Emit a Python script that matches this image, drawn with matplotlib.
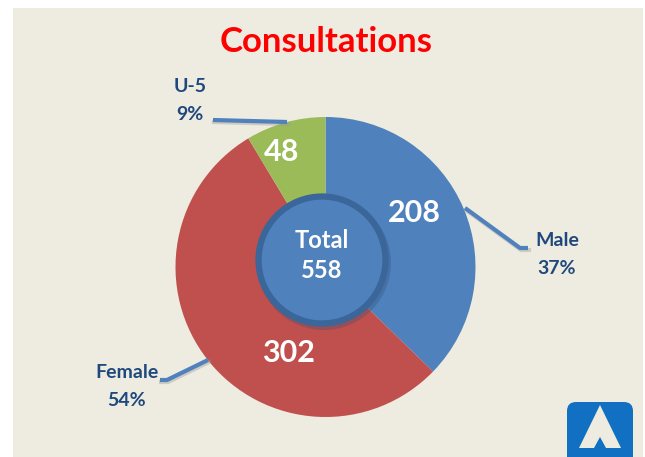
import numpy as np
import matplotlib.pyplot as plt
from matplotlib.patches import Circle, Rectangle, FancyBboxPatch, Polygon

plt.rcParams['font.family'] = ['Lato', 'DejaVu Sans']

# données
categories = ["Male", "Female", "U-5"]
valeurs = [208, 302, 48]
pourcentages = ["37%", "54%", "9%"]
couleurs = ["#4F81BD", "#C0504D", "#9BBB59"]
total = sum(valeurs)

W, H = 645, 457
fig = plt.figure(figsize=(W / 100, H / 100), dpi=100)
ax = fig.add_axes([0, 0, 1, 1])

# fond beige
ax.add_patch(Rectangle((13, 0), 630, H - 8, facecolor="#EEEBE0", edgecolor="none", zorder=0))

cx, cy = 325.5, H - 267
R = 150
wedges, _ = ax.pie(valeurs, colors=couleurs, startangle=90, counterclock=False,
                   center=(cx, cy), radius=R, frame=True,
                   wedgeprops=dict(edgecolor="none"))
ax.set_xlim(0, W)
ax.set_ylim(0, H)
ax.set_aspect('equal')
ax.axis('off')

# valeurs dans les parts
pos_valeurs = [(414, 213), (288, 353), (282, 152)]
for v, (x, y) in zip(valeurs, pos_valeurs):
    ax.text(x, H - y, str(v), color="white", fontsize=22, fontweight="bold",
            ha="center", va="center", zorder=5)

# cercle central
ccx, ccy = 322, H - 260
ax.add_patch(Circle((ccx + 2, ccy - 3), 67, facecolor="#2F4F75", alpha=0.3, edgecolor="none", zorder=3))
ax.add_patch(Circle((ccx, ccy), 63.5, facecolor="#4F81BD", edgecolor="#3A6699", linewidth=4.5, zorder=4))
ax.text(ccx, H - 240, "Total", color="white", fontsize=17, fontweight="bold",
        ha="center", va="center", zorder=5)
ax.text(ccx, H - 270, str(total), color="white", fontsize=17, fontweight="bold",
        ha="center", va="center", zorder=5)

# lignes de rappel
lignes = [
    [(465, 208), (520, 248), (528, 248)],
    [(208, 360), (167, 380), (160, 380)],
    [(287, 122), (213, 120)],
]
for pts in lignes:
    xs = [p[0] for p in pts]
    ys = [H - p[1] for p in pts]
    ax.plot([x + 1 for x in xs], [y - 2 for y in ys], color="#999999", lw=3, alpha=0.4, zorder=2)
    ax.plot(xs, ys, color="#4F81BD", lw=3, solid_capstyle="butt", zorder=2)

pos_etiquettes = [(557, 241), (127, 372), (190, 86)]
for c, p, (x, y) in zip(categories, pourcentages, pos_etiquettes):
    ax.text(x, H - y, c, color="#1F497D", fontsize=14, fontweight="bold",
            ha="center", va="center", zorder=5)
    ax.text(x, H - y - 28, p, color="#1F497D", fontsize=14, fontweight="bold",
            ha="center", va="center", zorder=5)

# titre
ax.text(326, H - 42, "Consultations", color="#FF0000", fontsize=25, fontweight="bold",
        ha="center", va="center")

# logo
ax.add_patch(FancyBboxPatch((567, -20), 66, 75, boxstyle="round,pad=0,rounding_size=9",
                            facecolor="#1170C2", edgecolor="none", zorder=5))
ax.add_patch(Polygon([(600, 52), (579, 9), (594, 9), (600, 20), (606, 9), (621, 9)],
                     closed=True, facecolor="#EEEBE0", edgecolor="none", zorder=6))

fig.savefig("out.png", dpi=100)
